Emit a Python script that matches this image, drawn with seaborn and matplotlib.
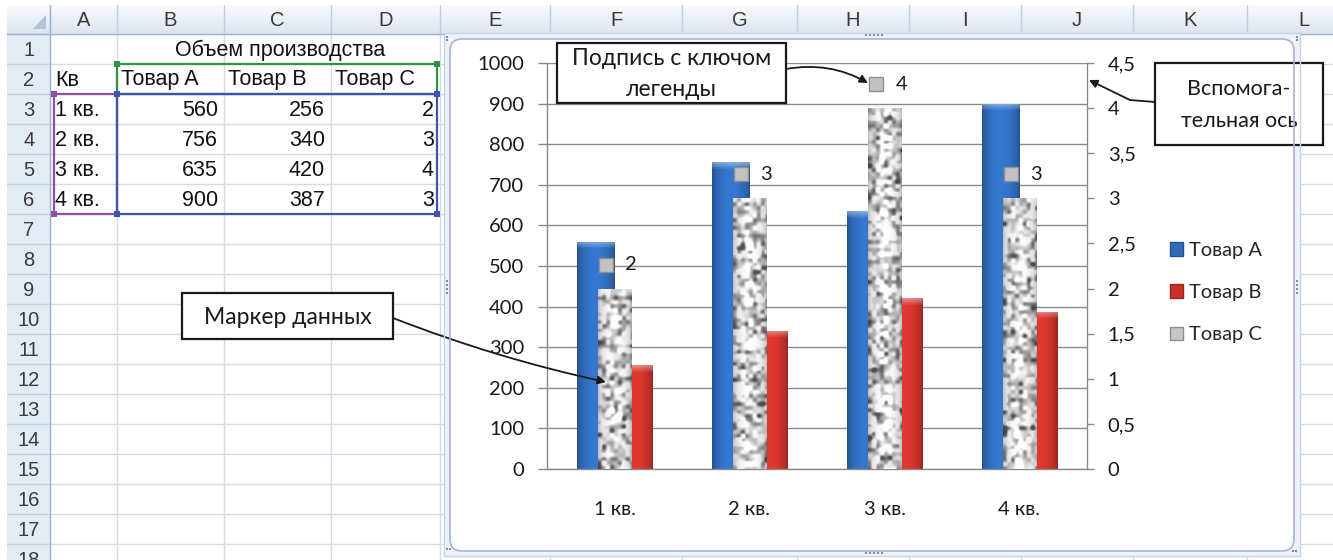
import numpy as np
import pandas as pd
import matplotlib
matplotlib.use("Agg")
import matplotlib.pyplot as plt
import matplotlib.transforms as mtransforms
from matplotlib import font_manager, ft2font, colors as mcolors
from matplotlib.patches import Rectangle, FancyBboxPatch, FancyArrowPatch, Patch, Polygon
import seaborn as sns

# ---------------- data ----------------
quarters = ["1 кв.", "2 кв.", "3 кв.", "4 кв."]
product_a = [560, 756, 635, 900]
product_b = [256, 340, 420, 387]
product_c = [2, 3, 4, 3]
product_names = ["Товар A", "Товар B", "Товар C"]
table_title = "Объем производства"
category_header = "Кв"
volume_ticks = [0, 100, 200, 300, 400, 500, 600, 700, 800, 900, 1000]
secondary_ticks = [0, 0.5, 1, 1.5, 2, 2.5, 3, 3.5, 4, 4.5]
column_letters = ["A", "B", "C", "D", "E", "F", "G", "H", "I", "J", "K", "L"]
row_count = 18

callout_legend_key = "Подпись с ключом\nлегенды"
callout_secondary = "Вспомога-\nтельная ось"
callout_marker = "Маркер данных"


# ---------------- fonts ----------------
def has_cyrillic(name):
    try:
        path = font_manager.findfont(font_manager.FontProperties(family=name),
                                     fallback_to_default=False)
        return 0x041F in ft2font.FT2Font(path).get_charmap()
    except Exception:
        return False


CHART_FONT = "Lato" if has_cyrillic("Lato") else "Open Sans"
SHEET_FONT = "Liberation Sans"
CHART_FS = 14.5
SHEET_FS = 15.5
HEAD_FS = 14.5

sns.set_style("white")
plt.rcParams["font.family"] = [CHART_FONT, "DejaVu Sans"]

W, H = 1333, 560
fig = plt.figure(figsize=(W / 100, H / 100), dpi=100)
fig.patch.set_facecolor("white")


def frac(x0, y0, x1, y1):
    """pixel box (top-left origin) -> figure fraction rect"""
    return [x0 / W, 1 - y1 / H, (x1 - x0) / W, (y1 - y0) / H]


# ---------------- worksheet background ----------------
bg = fig.add_axes([0, 0, 1, 1], zorder=0)
bg.axis("off")

COL_EDGES = [50, 117, 224, 331, 440, 550, 682, 797, 909, 1021, 1133, 1247, 1360]
HDR_TOP, HDR_BOT = 5, 34
ROW_H = 30
ROWHDR_L, ROWHDR_R = 7, 50
GRID = "#D5DBE4"
HDR_SEP = "#C2CFDF"
HDR_LINE = "#9FB4CC"

for x in COL_EDGES:
    bg.plot([x, x], [HDR_BOT, H], color=GRID, lw=1, zorder=1)
for k in range(row_count + 1):
    y = HDR_BOT + ROW_H * k
    bg.plot([ROWHDR_R, W], [y, y], color=GRID, lw=1, zorder=1)

g = np.linspace(0, 1, 30)[:, None, None]
top_c = np.array([0.975, 0.983, 0.993])
bot_c = np.array([0.860, 0.897, 0.945])
hdr_img = (top_c + (bot_c - top_c) * g) * np.ones((1, 2, 1))
bg.imshow(hdr_img, extent=(ROWHDR_L, W, HDR_BOT, HDR_TOP), origin="upper",
          aspect="auto", zorder=2)
bg.add_patch(Rectangle((ROWHDR_L, HDR_BOT), ROWHDR_R - ROWHDR_L, H - HDR_BOT,
                       fc="#E3EBF5", ec="none", zorder=2))
for x in COL_EDGES:
    bg.plot([x, x], [HDR_TOP, HDR_BOT], color=HDR_SEP, lw=1, zorder=3)
for k in range(row_count + 1):
    y = HDR_BOT + ROW_H * k
    bg.plot([ROWHDR_L, ROWHDR_R], [y, y], color=HDR_SEP, lw=1, zorder=3)
bg.plot([ROWHDR_L, W], [HDR_BOT, HDR_BOT], color=HDR_LINE, lw=1, zorder=3)
bg.plot([ROWHDR_R, ROWHDR_R], [HDR_TOP, H], color=HDR_LINE, lw=1, zorder=3)
bg.add_patch(Polygon([(33, 29), (46, 29), (46, 15)], closed=True,
                     fc="#B3C3D8", ec="none", zorder=3))

for i, letter in enumerate(column_letters):
    cx = (COL_EDGES[i] + COL_EDGES[i + 1]) / 2
    bg.text(cx, (HDR_TOP + HDR_BOT) / 2 + 1, letter, ha="center", va="center",
            fontsize=HEAD_FS, color="#3A3A3A", family=SHEET_FONT, zorder=4)
for k in range(1, row_count + 1):
    bg.text(29, HDR_BOT + ROW_H * (k - 0.5) + 1, str(k), ha="center", va="center",
            fontsize=HEAD_FS, color="#3A3A3A", family=SHEET_FONT, zorder=4)


def row_mid(r):
    return HDR_BOT + ROW_H * (r - 0.5) + 1


cell_kw = dict(fontsize=SHEET_FS, color="#111111", family=SHEET_FONT, va="center", zorder=4)
bg.text((COL_EDGES[1] + COL_EDGES[4]) / 2 + 2, row_mid(1), table_title, ha="center", **cell_kw)
bg.text(55, row_mid(2), category_header, ha="left", **cell_kw)
for j, name in enumerate(product_names):
    bg.text(COL_EDGES[1 + j] + 4, row_mid(2), name, ha="left", **cell_kw)
for i, q in enumerate(quarters):
    r = 3 + i
    bg.text(55, row_mid(r), q, ha="left", **cell_kw)
    for j, vals in enumerate([product_a, product_b, product_c]):
        bg.text(COL_EDGES[2 + j] - 6, row_mid(r), str(vals[i]), ha="right", **cell_kw)


# highlighted source ranges
def range_box(x0, y0, x1, y1, color):
    bg.add_patch(Rectangle((x0, y0), x1 - x0, y1 - y0, fc="none", ec=color, lw=1.6, zorder=5))
    for (hx, hy) in [(x0, y0), (x1, y0), (x0, y1), (x1, y1)]:
        bg.add_patch(Rectangle((hx - 3, hy - 3), 6, 6, fc=color, ec="none", zorder=6))


r2_top = HDR_BOT + ROW_H
r3_top = HDR_BOT + 2 * ROW_H
r6_bot = HDR_BOT + 6 * ROW_H
range_box(54, r3_top, COL_EDGES[1], r6_bot, "#8E4FA8")
range_box(COL_EDGES[1], r2_top, 437, r3_top, "#2E9447")
range_box(COL_EDGES[1], r3_top, 437, r6_bot, "#3E53AE")

# chart area: selection band and white rounded body
bg.add_patch(Rectangle((444, 33), 856, 523, fc="#EDF2F8", ec="none", zorder=7))
bg.add_patch(FancyBboxPatch((450, 39), 844, 512, boxstyle="round,pad=0,rounding_size=12",
                            fc="white", ec="none", zorder=8))
bg.set_xlim(0, W)
bg.set_ylim(H, 0)

# ---------------- chart ----------------
BLUE = "#2F6BBA"
RED = "#C9322A"
STONE = "#C4C4C4"
AXIS_GRAY = "#8A8A8A"

ax = fig.add_axes(frac(547, 63, 1087, 469), zorder=2)
ax.patch.set_alpha(0)

long_df = pd.DataFrame({
    "Квартал": quarters * 2,
    "Объем": product_a + product_b,
    "Товар": [product_names[0]] * len(quarters) + [product_names[1]] * len(quarters),
})
sns.barplot(data=long_df, x="Квартал", y="Объем", hue="Товар",
            hue_order=product_names[:2], palette=[BLUE, RED],
            width=76 / 135, saturation=1, errorbar=None, legend=False,
            linewidth=0, ax=ax)

ax2 = ax.twinx()
ax2.set_zorder(3)
ax2.patch.set_visible(False)
sns.barplot(x=quarters, y=product_c, color=STONE, width=34 / 135, saturation=1,
            errorbar=None, linewidth=0, ax=ax2)


def set_limits():
    ax.set_xlim(-0.5, len(quarters) - 0.5)
    ax.set_ylim(volume_ticks[0], volume_ticks[-1])
    ax2.set_ylim(secondary_ticks[0], secondary_ticks[-1])


set_limits()


def blur(a, passes):
    out = a.copy()
    for _ in range(passes):
        p = np.pad(out, 1, mode="edge")
        out = (p[:-2, 1:-1] + p[2:, 1:-1] + p[1:-1, :-2] + p[1:-1, 2:] + p[1:-1, 1:-1]) / 5
    return out


texture_rng = np.random.default_rng(11)


def paint_bar(axis, patch, kind):
    x0, y0 = patch.get_x(), patch.get_y()
    w, h = patch.get_width(), patch.get_height()
    px0, py0 = axis.transData.transform((x0, y0))
    px1, py1 = axis.transData.transform((x0 + w, y0 + h))
    wpx = max(int(round(px1 - px0)), 2)
    hpx = max(int(round(py1 - py0)), 2)
    t = (np.arange(wpx) + 0.5) / wpx
    if kind == "stone":
        cell = 4
        noise = texture_rng.standard_normal((hpx // cell + 2, wpx // cell + 2))
        noise = np.repeat(np.repeat(noise, cell, axis=0), cell, axis=1)[:hpx, :wpx]
        noise = blur(noise, 4)
        noise = (noise - noise.mean()) / (noise.std() + 1e-9)
        gval = np.clip(0.86 + 0.21 * noise, 0.34, 1.0)
        prof = 0.70 + 0.30 * np.sin(np.pi * t) ** 0.5
        gval = gval * prof[None, :]
        img = np.dstack([gval, gval, gval])
    else:
        base = np.array(mcolors.to_rgb(BLUE if kind == "blue" else RED))
        prof = 0.72 + 0.40 * np.sin(np.pi * t) ** 0.6
        img = np.clip(base[None, None, :] * prof[None, :, None] * np.ones((hpx, 1, 1)), 0, 1)
    cap = min(7, hpx)
    for r in range(cap):
        a = 0.40 * (1 - r / cap)
        img[r] = img[r] * (1 - a) + a
    im = axis.imshow(img, extent=(x0, x0 + w, y0, y0 + h), origin="upper",
                     aspect="auto", interpolation="bilinear",
                     zorder=patch.get_zorder() + 0.01)
    im.set_clip_path(patch)


for p in list(ax.patches):
    fc = mcolors.to_hex(p.get_facecolor()).lower()
    paint_bar(ax, p, "blue" if fc == BLUE.lower() else "red")
for p in list(ax2.patches):
    paint_bar(ax2, p, "stone")
set_limits()

# axes styling
ax.set_xlabel("")
ax.set_ylabel("")
ax2.set_ylabel("")
ax.set_axisbelow(True)
ax.yaxis.grid(True, color=AXIS_GRAY, lw=1)
ax.xaxis.grid(False)
ax2.grid(False)
for s in ["top", "right"]:
    ax.spines[s].set_visible(False)
for s in ["left", "bottom"]:
    ax.spines[s].set_color(AXIS_GRAY)
    ax.spines[s].set_linewidth(1)
for s in ["top", "left", "bottom"]:
    ax2.spines[s].set_visible(False)
ax2.spines["right"].set_color(AXIS_GRAY)
ax2.spines["right"].set_linewidth(1)

ax.set_yticks(volume_ticks, labels=[str(v) for v in volume_ticks])
ax.tick_params(axis="y", length=6.5, width=1, color=AXIS_GRAY, pad=10,
               labelsize=CHART_FS, labelcolor="#1A1A1A")
ax.set_xticks(np.arange(-0.5, len(quarters), 1.0), labels=[])
ax.set_xticks(np.arange(len(quarters)), labels=quarters, minor=True)
ax.tick_params(axis="x", which="major", length=5.5, width=1, color=AXIS_GRAY, direction="out")
ax.tick_params(axis="x", which="minor", length=0, pad=23, labelsize=CHART_FS,
               labelcolor="#1A1A1A")

ax2.set_yticks(secondary_ticks,
               labels=[f"{v:g}".replace(".", ",") for v in secondary_ticks])
ax2.tick_params(axis="y", length=5, width=1, color=AXIS_GRAY, pad=10,
                labelsize=CHART_FS, labelcolor="#1A1A1A")

# data labels with legend key on the secondary series
key_tr = mtransforms.offset_copy(ax2.transData, fig=fig, x=-9, y=24, units="dots")
txt_tr = mtransforms.offset_copy(ax2.transData, fig=fig, x=11, y=24, units="dots")
for i, v in enumerate(product_c):
    ax2.plot([i], [v], marker="s", ms=9.5, mfc="#C2C2C2", mec="#8E8E8E", mew=1,
             transform=key_tr, zorder=10, clip_on=False)
    ax2.text(i, v, str(v), transform=txt_tr, ha="left", va="center",
             fontsize=CHART_FS, color="#1A1A1A", zorder=10)

# ---------------- overlay: legend, callouts, frame ----------------
ov = fig.add_axes([0, 0, 1, 1], zorder=5)
ov.axis("off")
ov.patch.set_alpha(0)

handles = [Patch(fc=BLUE, ec="#23538F"), Patch(fc=RED, ec="#9B2620"),
           Patch(fc="#C6C6C6", ec="#8E8E8E")]
ov.legend(handles=handles, labels=product_names, loc="upper left",
          bbox_to_anchor=(1170 / W, 1 - 242 / H), bbox_transform=fig.transFigure,
          frameon=False, prop={"size": CHART_FS}, handlelength=0.65, handleheight=0.65,
          handletextpad=0.3, labelspacing=1.25, borderaxespad=0, borderpad=0)


def callout(x0, y0, x1, y1, text, fs, linespacing=1.5):
    ov.add_patch(Rectangle((x0, y0), x1 - x0, y1 - y0, fc="white", ec="#1A1A1A",
                           lw=1.6, zorder=2))
    ov.text((x0 + x1) / 2, (y0 + y1) / 2 + 1, text, ha="center", va="center",
            fontsize=fs, color="#1A1A1A", linespacing=linespacing, zorder=3)


arrow_kw = dict(arrowstyle="-|>", mutation_scale=12, lw=1.3, color="#1A1A1A",
                shrinkA=0, shrinkB=0, zorder=4)

callout(557, 43, 786, 103, callout_legend_key, 16.5, linespacing=1.55)
ov.add_patch(FancyArrowPatch((786, 69), (868, 83),
                             connectionstyle="arc3,rad=-0.18", **arrow_kw))

callout(1155, 63, 1323, 145, callout_secondary, 15.5, linespacing=1.75)
ov.plot([1155, 1130], [102, 100], color="#1A1A1A", lw=1.3, zorder=4)
ov.add_patch(FancyArrowPatch((1130, 100), (1089, 80), **arrow_kw))

callout(182, 293, 393, 339, callout_marker, 16.5)
ov.add_patch(FancyArrowPatch((393, 318), (606, 382),
                             connectionstyle="arc3,rad=0.04", **arrow_kw))

# chart selection frame drawn over everything
ov.add_patch(Rectangle((444, 33), 856, 523, fc="none", ec="#C6D4E4", lw=1, zorder=6))
ov.add_patch(FancyBboxPatch((450, 39), 844, 512, boxstyle="round,pad=0,rounding_size=12",
                            fc="none", ec="#A3B7CF", lw=1.2, zorder=6))
grip = "#7E8FA6"
for (gx, gy, n, dx, dy) in [(447, 37, 2, 0, 3), (1297, 37, 2, 0, 3),
                            (447, 281, 4, 0, 4), (1297, 281, 4, 0, 4),
                            (447, 549, 2, 3, 0), (1293, 551, 2, 3, 0),
                            (866, 553, 5, 4, 0), (866, 35, 5, 4, 0)]:
    ov.scatter([gx + dx * k for k in range(n)], [gy + dy * k for k in range(n)],
               s=2.2, color=grip, marker="s", linewidths=0, zorder=7)

ov.set_xlim(0, W)
ov.set_ylim(H, 0)

fig.savefig("out.png", dpi=100)
